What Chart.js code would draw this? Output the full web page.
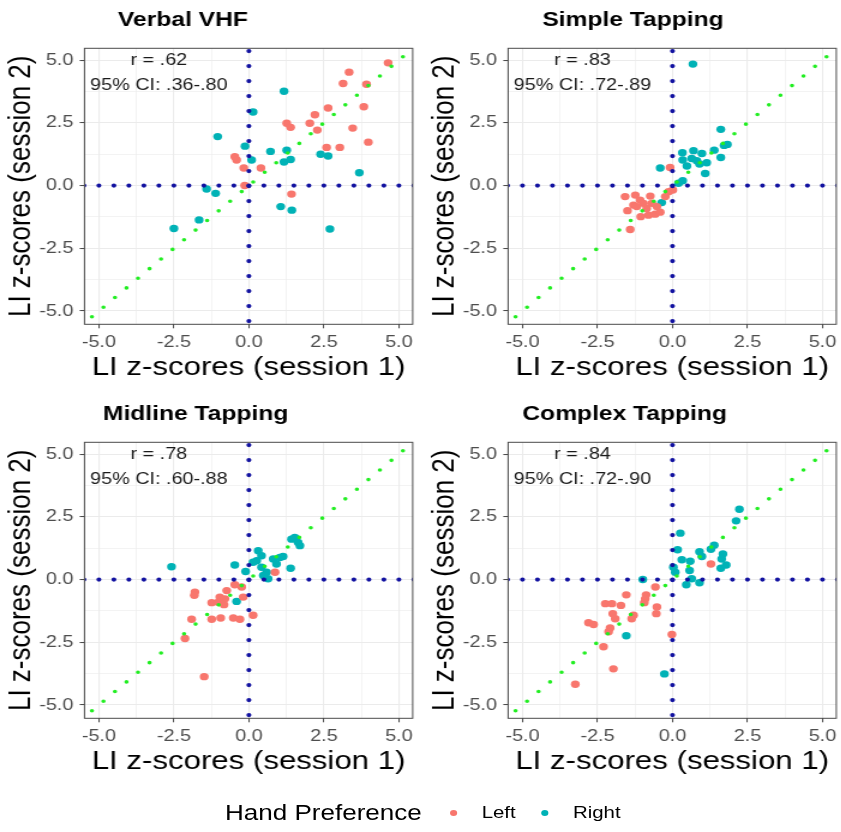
<!DOCTYPE html>
<html>
<head>
<meta charset="utf-8">
<script src="https://cdn.jsdelivr.net/npm/chart.js@4.4.0/dist/chart.umd.min.js"></script>
<style>
  html, body { margin: 0; padding: 0; background: #fff; overflow: hidden; }
  /* the reference is stretched sideways, so lay out narrow and widen */
  #page { position: absolute; left: 0; top: 0; width: 701px; height: 832px;
          transform: scaleX(1.2); transform-origin: 0 0;
          font-family: "Liberation Sans", Arial, sans-serif; }
  canvas { position: absolute; }
  .lg { position: absolute; top: 813px; transform: translateY(-50%); white-space: nowrap; color: #000; }
  .dot { position: absolute; top: 813px; width: 6px; height: 6px; margin: -3px 0 0 -3px; border-radius: 50%; }
</style>
</head>
<body>
<div id="page">
  <canvas id="c1" width="350" height="394" style="left:0;top:0"></canvas>
  <canvas id="c2" width="350" height="394" style="left:352.75px;top:0"></canvas>
  <canvas id="c3" width="350" height="394" style="left:0;top:394.4px"></canvas>
  <canvas id="c4" width="350" height="394" style="left:352.75px;top:394.4px"></canvas>
  <div class="lg" style="left:187.5px;font-size:21.7px">Hand Preference</div>
  <div class="dot" style="left:377.5px;background:#F8766D"></div>
  <div class="lg" style="left:401.4px;font-size:17px">Left</div>
  <div class="dot" style="left:454.2px;background:#00B2B6"></div>
  <div class="lg" style="left:477.5px;font-size:17px">Right</div>
</div>
<script>
const FONT = '"Liberation Sans", Arial, sans-serif';

const TICKS = [-5, -2.5, 0, 2.5, 5];
const MINOR = [-3.75, -1.25, 1.25, 3.75];
const TITLES = ['Verbal VHF', 'Simple Tapping', 'Midline Tapping', 'Complex Tapping'];
const R_TEXT = ['r = .62', 'r = .83', 'r = .78', 'r = .84'];
const CI_TEXT = ['95% CI: .36-.80', '95% CI: .72-.89', '95% CI: .60-.88', '95% CI: .72-.90'];

// [session 1, session 2] LI z-scores
const verbalLeft = [[4.64,4.89],[3.34,4.52],[3.14,4.07],[3.92,4.04],[2.64,3.09],[2.2,2.82],[3.83,3.14],
  [1.26,2.48],[1.39,2.32],[2.03,2.48],[2.28,2.21],[3.46,2.29],[3.98,1.73],[2.59,1.52],[3.03,1.52],
  [-0.47,1.15],[-0.41,1.02],[-0.17,0.7],[0.4,0.7],[-0.14,0.0],[1.42,-0.34]];
const verbalRight = [[1.17,3.76],[0.14,2.93],[-1.04,1.95],[-0.13,1.57],[0.72,1.36],[1.26,1.41],[0.09,1.02],
  [1.17,0.94],[1.39,1.04],[2.39,1.25],[2.64,1.18],[3.68,0.51],[-1.41,-0.14],[-1.11,-0.31],[1.06,-0.84],
  [1.43,-0.98],[-1.66,-1.37],[-2.5,-1.71],[2.7,-1.73]];
const simpleLeft = [[-0.08,0.72],[0.01,-0.18],[-0.13,-0.25],[-1.58,-0.44],[-1.24,-0.38],[-0.74,-0.42],
  [-1.08,-0.58],[-1.5,-1.0],[-1.3,-0.78],[-0.97,-0.71],[-0.69,-0.71],[-0.52,-0.84],[-1.06,-1.24],
  [-0.8,-1.18],[-0.58,-1.14],[-0.41,-1.06],[-1.41,-1.75],[-0.24,-0.44],[-0.86,-0.91],[-1.19,-0.84]];
const simpleRight = [[0.68,4.84],[1.61,2.24],[1.83,1.64],[1.72,1.6],[1.39,1.41],[0.7,1.39],[0.33,1.31],
  [0.98,1.28],[1.61,1.12],[0.34,1.02],[0.64,1.08],[0.81,0.99],[1.14,0.91],[0.48,0.78],[0.9,0.86],
  [1.09,0.48],[-0.41,0.7],[0.34,0.19],[0.2,0.09],[-0.36,-0.68]];
const midlineLeft = [[0.87,0.29],[-0.47,-0.21],[-0.24,-0.3],[-0.74,-0.44],[-1.8,-0.5],[-1.82,-0.63],
  [-0.97,-0.7],[-0.8,-0.77],[-1.24,-0.92],[-1.02,-0.9],[-0.83,-1.0],[-0.19,-0.7],[-1.91,-1.58],
  [-1.24,-1.58],[-0.94,-1.53],[-0.52,-1.53],[-0.3,-1.58],[0.14,-1.42],[-2.13,-2.35],[-1.49,-3.87]];
const midlineRight = [[-2.58,0.51],[-0.47,0.58],[-0.11,0.32],[0.31,1.15],[0.42,0.95],[0.26,0.75],
  [0.42,0.49],[0.59,0.29],[0.64,0.03],[0.81,0.82],[1.03,0.88],[0.92,0.62],[1.14,0.92],[1.39,0.45],
  [1.42,1.61],[1.53,1.68],[1.7,1.35],[1.64,1.48],[-0.41,-0.87],[0.14,0.69],[0.48,0.16]];
const complexLeft = [[1.28,0.62],[-0.57,-0.3],[-1.54,-0.61],[-0.88,-0.61],[-0.91,-0.77],[-2.24,-0.96],
  [-2.02,-0.96],[-1.72,-1.03],[-0.94,-0.92],[-0.52,-1.09],[-0.54,-1.36],[-1.99,-1.36],[-1.3,-1.42],
  [-1.36,-1.56],[-1.91,-1.56],[-2.8,-1.72],[-2.63,-1.79],[-2.08,-1.93],[-2.13,-2.08],[-0.02,-2.19],
  [-2.3,-2.68],[-1.97,-3.56],[-3.24,-4.17]];
const complexRight = [[2.23,2.8],[2.12,2.34],[0.26,1.85],[0.17,1.19],[0.9,1.11],[1.28,1.21],[1.39,1.37],
  [1.68,1.02],[0.31,0.79],[0.59,0.73],[0.98,0.92],[1.61,0.45],[1.79,0.58],[0.03,0.49],[0.09,0.29],
  [0.57,0.36],[0.64,0.03],[0.46,-0.21],[0.9,-0.13],[-0.99,0.0],[-1.54,-2.24],[-0.27,-3.76],[1.64,0.82]];

const ANNOT_X = -3;
const ANNOT_Y = [5, 4];
const REF_SPAN = [-6, 6];   // reference lines x = 0, y = 0 and y = x

const panelDecor = {
  id: 'panelDecor',
  afterDraw(chart, args, o) {
    const { ctx, chartArea: a, scales: { x, y } } = chart;
    ctx.save();
    ctx.strokeStyle = '#4a4a4a';
    ctx.lineWidth = 1;
    ctx.strokeRect(a.left, a.top, a.right - a.left, a.bottom - a.top);
    ctx.fillStyle = '#000';
    ctx.textBaseline = 'middle';
    ctx.textAlign = 'left';
    ctx.font = 'bold 20.5px ' + FONT;
    ctx.fillText(o.title, o.titleX, 20.5);
    ctx.textAlign = 'center';
    ctx.font = '16.5px ' + FONT;
    ctx.fillStyle = '#1a1a1a';
    ctx.fillText(o.r, x.getPixelForValue(ANNOT_X), y.getPixelForValue(ANNOT_Y[0]));
    ctx.fillText(o.ci, x.getPixelForValue(ANNOT_X), y.getPixelForValue(ANNOT_Y[1]));
    ctx.restore();
  }
};

function axis(which, label) {
  const isX = which === 'x';
  return {
    type: 'linear',
    min: isX ? -5.48 : -5.53,
    max: isX ? 5.46 : 5.47,
    afterBuildTicks: s => { s.ticks = TICKS.concat(MINOR).sort((a, b) => a - b).map(v => ({ value: v })); },
    afterFit: s => {
      if (isX) s.height = 69.7; else s.width = 70.4;
      s.paddingLeft = s.paddingRight = s.paddingTop = s.paddingBottom = 0;
    },
    grid: {
      color: '#ebebeb',
      lineWidth: c => (c.tick && MINOR.includes(c.tick.value)) ? 0.6 : 1.1,
      tickColor: c => (c.tick && TICKS.includes(c.tick.value)) ? '#444' : 'rgba(0,0,0,0)',
      tickLength: 4,
      tickWidth: 1
    },
    border: { display: false },
    ticks: {
      autoSkip: false,
      maxRotation: 0,
      padding: isX ? 4 : 5.3,
      color: '#4d4d4d',
      font: { size: 16.5, family: FONT },
      callback: v => TICKS.includes(v) ? v.toFixed(1) : ''
    },
    title: {
      display: true,
      text: label,
      color: '#000',
      font: { size: 26, family: FONT },
      padding: isX ? { top: 4, bottom: 11 } : { top: 2, bottom: 4 }
    }
  };
}

function refLine(pts, color, width, gap) {
  return {
    type: 'line', data: pts, borderColor: color, borderWidth: width,
    borderDash: [0, gap], borderCapStyle: 'round', pointRadius: 0, clip: 0
  };
}

function makePanel(id, i, left, right, titleX) {
  const [lo, hi] = REF_SPAN;
  new Chart(document.getElementById(id), {
    type: 'scatter',
    data: {
      datasets: [
        refLine([{ x: lo, y: 0 }, { x: hi, y: 0 }], '#1212a0', 4.2, 12.5),
        refLine([{ x: 0, y: lo }, { x: 0, y: hi }], '#1212a0', 4.2, 15),
        refLine([{ x: lo, y: lo }, { x: hi, y: hi }], '#22ee22', 3.6, 13.6),
        { label: 'Left', data: left.map(([x, y]) => ({ x, y })), backgroundColor: '#F8766D',
          pointRadius: 3.7, borderWidth: 0 },
        { label: 'Right', data: right.map(([x, y]) => ({ x, y })), backgroundColor: '#00B2B6',
          pointRadius: 3.7, borderWidth: 0 }
      ]
    },
    options: {
      responsive: false,
      animation: false,
      layout: { padding: { left: 0, top: 48.3, right: 6.1, bottom: 0 } },
      scales: {
        x: axis('x', 'LI z-scores (session 1)'),
        y: axis('y', 'LI z-scores (session 2)')
      },
      plugins: {
        legend: { display: false },
        tooltip: { enabled: false },
        panelDecor: { title: TITLES[i], titleX, r: R_TEXT[i], ci: CI_TEXT[i] }
      }
    },
    plugins: [panelDecor]
  });
}

makePanel('c1', 0, verbalLeft, verbalRight, 98.3);
makePanel('c2', 1, simpleLeft, simpleRight, 98.9);
makePanel('c3', 2, midlineLeft, midlineRight, 85.8);
makePanel('c4', 3, complexLeft, complexRight, 82.3);
</script>
</body>
</html>
